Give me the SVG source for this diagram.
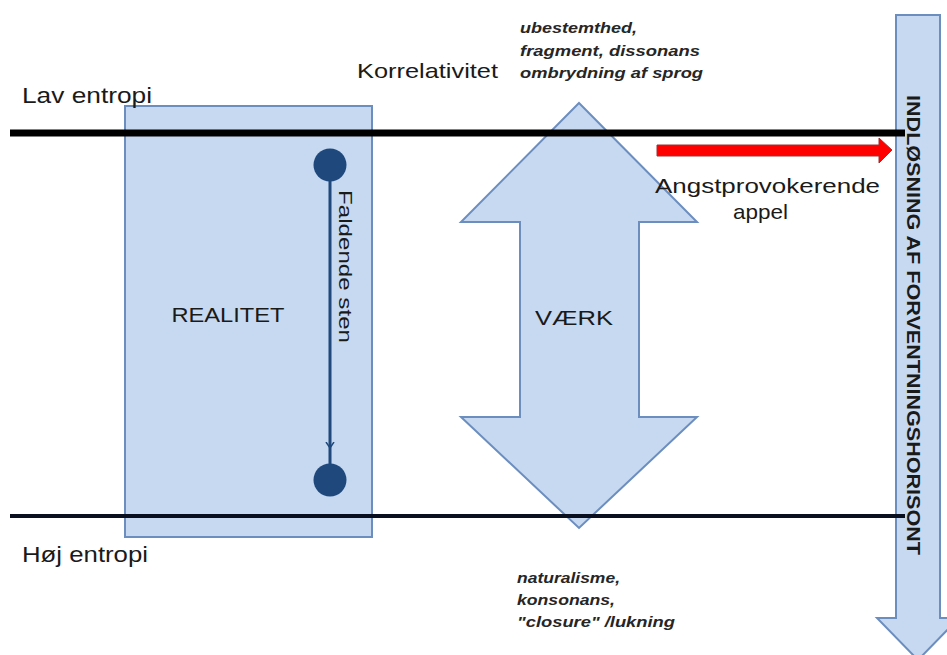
<svg xmlns="http://www.w3.org/2000/svg" width="947" height="655" viewBox="0 0 947 655">
<style>
.shape{fill:#c6d9f1;stroke:#6c8ebf;stroke-width:2}
.t{font-family:"Liberation Sans",Arial,sans-serif;fill:#1a1a1a}
.it{font-family:"Liberation Sans",Arial,sans-serif;font-style:italic;font-weight:bold;font-size:15px;fill:#262626}
</style>
<defs>
<marker id="ah" markerWidth="10" markerHeight="10" refX="5" refY="5" orient="auto" markerUnits="userSpaceOnUse">
<path d="M0,1 L6,5 L0,9" fill="none" stroke="#1f497d" stroke-width="1.5"/>
</marker>
</defs>
<rect width="947" height="655" fill="#fff"/>
<g id="realitet">
<rect class="shape" x="125" y="106" width="247" height="431"/>
<text class="t" x="228" y="322" font-size="21" text-anchor="middle" textLength="113" lengthAdjust="spacingAndGlyphs">REALITET</text>
</g>
<g id="horisont">
<path class="shape" d="M896,15 L940,15 L940,618 L959,618 L918,660 L877,618 L896,618 Z"/>
<text class="t" transform="translate(907,95) rotate(90)" font-size="18" font-weight="bold" textLength="460" lengthAdjust="spacingAndGlyphs">INDLØSNING AF FORVENTNINGSHORISONT</text>
</g>
<g id="vaerk">
<path class="shape" d="M579,103 L697,222 L639,222 L639,417 L697,417 L579,528 L461,417 L520,417 L520,222 L461,222 Z"/>
<text class="t" x="574" y="325" font-size="21" text-anchor="middle" textLength="78" lengthAdjust="spacingAndGlyphs">VÆRK</text>
</g>
<g id="connectors">
<line x1="10" y1="133" x2="905" y2="133" stroke="#000" stroke-width="7"/>
<line x1="10" y1="516" x2="905" y2="516" stroke="#0a0f1f" stroke-width="4"/>
<path d="M330,165 L330,447 L330,478" fill="none" stroke="#1f497d" stroke-width="3" marker-mid="url(#ah)"/>
<path d="M657,145 L879,145 L879,138 L892,150 L879,163 L879,156 L657,156 Z" fill="#ff0000" stroke="#a03030" stroke-width="1"/>
</g>
<g id="sten">
<circle cx="330" cy="165" r="16.5" fill="#1f497d"/>
<circle cx="330" cy="480" r="16.5" fill="#1f497d"/>
<text class="t" transform="translate(339,190) rotate(90)" font-size="18" textLength="153" lengthAdjust="spacingAndGlyphs">Faldende sten</text>
</g>
<g id="labels">
<text class="t" x="22" y="103" font-size="22" textLength="130" lengthAdjust="spacingAndGlyphs">Lav entropi</text>
<text class="t" x="22" y="562" font-size="22" textLength="126" lengthAdjust="spacingAndGlyphs">Høj entropi</text>
<text class="t" x="357" y="78" font-size="21" textLength="141" lengthAdjust="spacingAndGlyphs">Korrelativitet</text>
<text class="t" x="655" y="193" font-size="21" textLength="225" lengthAdjust="spacingAndGlyphs">Angstprovokerende</text>
<text class="t" x="733" y="219" font-size="21" textLength="55" lengthAdjust="spacingAndGlyphs">appel</text>
<text class="it" x="520" y="33" textLength="117" lengthAdjust="spacingAndGlyphs">ubestemthed,</text>
<text class="it" x="520" y="56" textLength="180" lengthAdjust="spacingAndGlyphs">fragment,  dissonans</text>
<text class="it" x="520" y="78" textLength="183" lengthAdjust="spacingAndGlyphs">ombrydning  af sprog</text>
<text class="it" x="517" y="583" textLength="103" lengthAdjust="spacingAndGlyphs">naturalisme,</text>
<text class="it" x="517" y="605" textLength="98" lengthAdjust="spacingAndGlyphs">konsonans,</text>
<text class="it" x="517" y="627" textLength="158" lengthAdjust="spacingAndGlyphs">"closure" /lukning</text>
</g>
</svg>
